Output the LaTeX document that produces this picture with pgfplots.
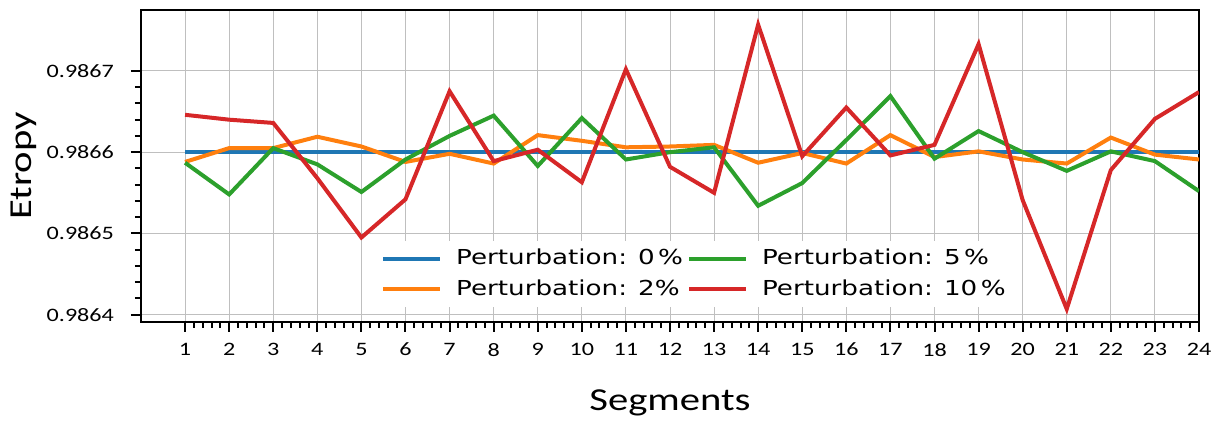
\documentclass[border=0pt]{standalone}
\usepackage{fontspec}
\setmainfont{Carlito}[FakeStretch=1.27]
\newfontfamily\dejavu{DejaVu Sans}[FakeStretch=1.27]
\usepackage{pgfplots}
\pgfplotsset{compat=1.18}
\definecolor{mblue}{HTML}{1F77B4}
\definecolor{morange}{HTML}{FF7F0E}
\definecolor{mgreen}{HTML}{2CA02C}
\definecolor{mred}{HTML}{D62728}
\begin{document}
\begin{tikzpicture}
\begin{axis}[
  scale only axis,
  width=529pt, height=156pt,
  xmin=0, xmax=24,
  ymin=0.986391, ymax=0.986775,
  xtick={1,...,24},
  minor x tick num=4,
  ytick={0.9864,0.9865,0.9866,0.9867},
  minor y tick num=4,
  scaled y ticks=false,
  yticklabel style={/pgf/number format/fixed, /pgf/number format/precision=4, /pgf/number format/fixed zerofill, xshift=-5pt},
  xticklabel style={yshift=-2pt},
  /pgf/number format/assume math mode=true,
  tick label style={font=\fontsize{9.5}{11}\selectfont},
  tick align=outside,
  xtick pos=bottom, ytick pos=left,
  major tick length=5pt, minor tick length=3pt,
  every tick/.style={black, line width=1pt},
  axis line style={black, line width=1.1pt},
  grid=major,
  major grid style={gray!50, line width=0.5pt},
  xlabel={Segments}, ylabel={Etropy},
  label style={font=\fontsize{16}{18}\selectfont},
  xlabel style={at={(axis description cs:0.5,-0.26)}, anchor=center},
  ylabel style={at={(axis description cs:-0.1106,0.5)}, anchor=center},
  legend cell align=left,
  legend style={at={(rel axis cs:0.221,0.048)}, anchor=south west, draw=none, fill=white,
    font=\dejavu\fontsize{10.3}{12}\selectfont, row sep=2pt, inner xsep=3pt, inner ysep=2pt,
    /tikz/every odd column/.append style={column sep=5pt},
    /tikz/every even column/.append style={column sep=0pt}},
  legend columns=2, transpose legend,
  legend image code/.code={\draw[#1, line width=2pt] (0pt,0pt) -- (28.5pt,0pt);},
  every axis plot/.append style={line width=2pt},
]
\addplot[mblue] coordinates {(1,0.98660)(2,0.98660)(3,0.98660)(4,0.98660)(5,0.98660)(6,0.98660)(7,0.98660)(8,0.98660)(9,0.98660)(10,0.98660)(11,0.98660)(12,0.98660)(13,0.98660)(14,0.98660)(15,0.98660)(16,0.98660)(17,0.98660)(18,0.98660)(19,0.98660)(20,0.98660)(21,0.98660)(22,0.98660)(23,0.98660)(24,0.98660)};
\addlegendentry{Perturbation: 0\,\%}
\addplot[morange] coordinates {(1,0.986588)(2,0.986605)(3,0.986605)(4,0.986619)(5,0.986607)(6,0.986588)(7,0.986598)(8,0.986586)(9,0.986621)(10,0.986614)(11,0.986606)(12,0.986607)(13,0.986609)(14,0.986587)(15,0.986599)(16,0.986586)(17,0.986621)(18,0.986594)(19,0.986601)(20,0.986591)(21,0.986586)(22,0.986618)(23,0.986597)(24,0.986591)};
\addlegendentry{Perturbation: 2\%}
\addplot[mgreen] coordinates {(1,0.986587)(2,0.986548)(3,0.986605)(4,0.986585)(5,0.986551)(6,0.986591)(7,0.986620)(8,0.986645)(9,0.986583)(10,0.986642)(11,0.986591)(12,0.986600)(13,0.986606)(14,0.986534)(15,0.986562)(16,0.986615)(17,0.986669)(18,0.986592)(19,0.986626)(20,0.986600)(21,0.986577)(22,0.986601)(23,0.986589)(24,0.986552)};
\addlegendentry{Perturbation: 5\,\%}
\addplot[mred] coordinates {(1,0.986646)(2,0.986640)(3,0.986636)(4,0.986568)(5,0.986495)(6,0.986542)(7,0.986675)(8,0.986589)(9,0.986603)(10,0.986563)(11,0.986702)(12,0.986582)(13,0.986550)(14,0.986757)(15,0.986595)(16,0.986655)(17,0.986596)(18,0.986609)(19,0.986733)(20,0.986541)(21,0.986407)(22,0.986578)(23,0.986641)(24,0.986674)};
\addlegendentry{Perturbation: 10\,\%}
\end{axis}
\pgfresetboundingbox
\path[use as bounding box] ([shift={(-70.5pt,-49.5pt)}]current axis.south west) rectangle ([shift={(14pt,5pt)}]current axis.north east);
\end{tikzpicture}
\end{document}
